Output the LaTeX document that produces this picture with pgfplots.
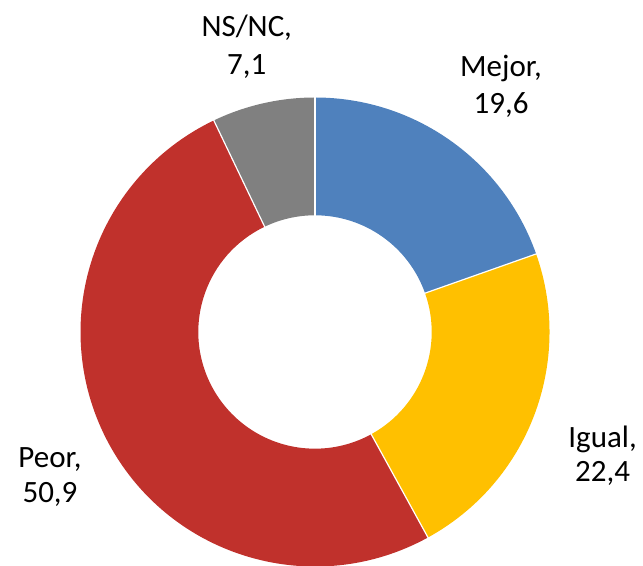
\documentclass[border=0pt]{standalone}
\usepackage{fontspec}
\setmainfont{Carlito}
\usepackage{pgfplots}
\usepackage{pgfplotstable}
\pgfplotsset{compat=1.18}
\usetikzlibrary{calc}

\definecolor{mejor}{RGB}{79,129,189}
\definecolor{igual}{RGB}{255,192,0}
\definecolor{peor}{RGB}{192,49,44}
\definecolor{nsnc}{RGB}{128,128,128}

\pgfplotstableread{
label value
Mejor 19.6
Igual 22.4
Peor  50.9
NSNC  7.1
}\donutdata

% one ring segment, clockwise from #1 to #2 (degrees)
\newcommand\sector[3]{%
  \fill[#3] ($(axis cs:315,234)+(#1:117.25pt)$) arc[start angle=#1,end angle=#2,radius=117.25pt]
    -- ($(axis cs:315,234)+(#2:58.35pt)$) arc[start angle=#2,end angle=#1,radius=58.35pt] -- cycle;
}
\newcommand\gap[1]{%
  \draw[white,line width=0.6pt] ($(axis cs:315,234)+(#1:58pt)$) -- ($(axis cs:315,234)+(#1:118pt)$);
}

\begin{document}
\begin{tikzpicture}
  \pgfplotstablegetelem{0}{value}\of\donutdata \pgfmathsetmacro\aB{90-3.6*\pgfplotsretval}
  \pgfplotstablegetelem{1}{value}\of\donutdata \pgfmathsetmacro\aC{\aB-3.6*\pgfplotsretval}
  \pgfplotstablegetelem{2}{value}\of\donutdata \pgfmathsetmacro\aD{\aC-3.6*\pgfplotsretval}
  \pgfplotstablegetelem{3}{value}\of\donutdata \pgfmathsetmacro\aE{\aD-3.6*\pgfplotsretval}
  \begin{axis}[
    scale only axis,
    width=321.5pt, height=283pt,
    xmin=0, xmax=643, ymin=0, ymax=566,
    hide axis,
    ]
    \sector{90}{\aB}{mejor}
    \sector{\aB}{\aC}{igual}
    \sector{\aC}{\aD}{peor}
    \sector{\aD}{\aE}{nsnc}
    \gap{90}\gap{\aB}\gap{\aC}\gap{\aD}

    \tikzset{lbl/.style={anchor=base, inner sep=0pt, font=\fontsize{15.5}{18.5}\selectfont}}
    \node[lbl] at (axis cs:501,489.3) {Mejor,};
    \node[lbl] at (axis cs:501,452) {19,6};
    \node[lbl] at (axis cs:602.6,118) {Igual,};
    \node[lbl] at (axis cs:602.6,84.3) {22,4};
    \node[lbl] at (axis cs:50,98) {Peor,};
    \node[lbl] at (axis cs:50,63.3) {50,9};
    \node[lbl] at (axis cs:246.7,529.3) {NS/NC,};
    \node[lbl] at (axis cs:246.7,491) {7,1};
  \end{axis}
  \pgfresetboundingbox
  \path[use as bounding box] (current axis.south west) rectangle (current axis.north east);
\end{tikzpicture}
\end{document}
